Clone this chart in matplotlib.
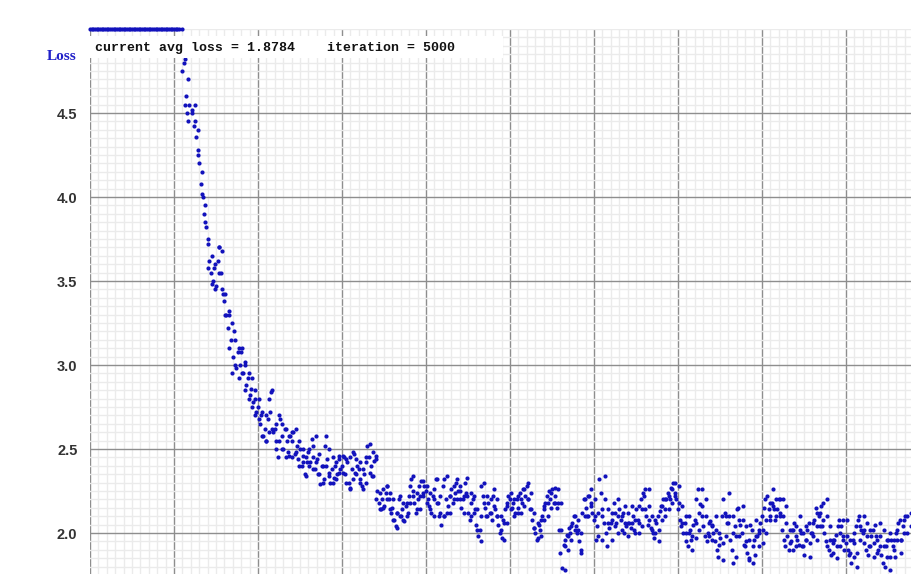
import numpy as np
import matplotlib
matplotlib.use('Agg')
from matplotlib import pyplot as plt
from matplotlib.patches import Rectangle
from matplotlib.ticker import MultipleLocator

# avg loss, one value every 10 iterations
avg_loss = [
    9.8, 9.5, 9.1, 8.9, 8.6, 8.4, 8.1, 7.9, 7.7, 7.5,
    7.3, 7.2, 7.0, 6.9, 6.8, 6.6, 6.5, 6.4, 6.3, 6.2,
    6.1, 6.0, 5.95, 5.9, 5.8, 5.75, 5.7, 5.65, 5.6, 5.55,
    5.5, 5.48, 5.45, 5.42, 5.4, 5.38, 5.35, 5.32, 5.3, 5.28,
    5.26, 5.24, 5.22, 5.2, 5.18, 5.16, 5.14, 5.12, 5.1, 5.08,
    5.06, 5.04, 5.03, 5.02, 4.85, 5.01, 4.8, 4.6, 4.5, 4.55,
    4.85, 4.52, 4.42, 4.36, 4.28, 4.2, 4.08, 4.0, 3.9, 3.82,
    3.72, 3.62, 3.55, 3.5, 3.58, 3.47, 3.62, 3.7, 3.55, 3.42,
    3.38, 3.3, 3.22, 3.32, 3.15, 3.05, 3.2, 2.98, 3.08, 3.0,
    3.08, 2.95, 3.0, 2.88, 2.92, 2.82, 2.86, 2.78, 2.8, 2.72,
    2.75, 2.65, 2.7, 2.58, 2.62, 2.55, 2.68, 2.72, 2.84, 2.6,
    2.62, 2.55, 2.45, 2.68, 2.58, 2.5, 2.62, 2.55, 2.48, 2.58,
    2.55, 2.6, 2.47, 2.52, 2.44, 2.5, 2.4, 2.46, 2.35, 2.42,
    2.48, 2.42, 2.56, 2.45, 2.38, 2.44, 2.35, 2.29, 2.4, 2.32,
    2.52, 2.44, 2.36, 2.3, 2.38, 2.33, 2.4, 2.35, 2.44, 2.38,
    2.4, 2.45, 2.35, 2.42, 2.3, 2.27, 2.38, 2.47, 2.36, 2.4,
    2.38, 2.32, 2.28, 2.35, 2.42, 2.52, 2.45, 2.4, 2.34, 2.43,
    2.44, 2.25, 2.18, 2.14, 2.2, 2.16, 2.24, 2.28, 2.2, 2.12,
    2.15, 2.08, 2.04, 2.12, 2.2, 2.1, 2.14, 2.07, 2.16, 2.12,
    2.22, 2.32, 2.25, 2.18, 2.12, 2.2, 2.28, 2.31, 2.24, 2.28,
    2.25, 2.2, 2.16, 2.12, 2.22, 2.26, 2.32, 2.18, 2.1, 2.05,
    2.28, 2.1, 2.2, 2.16, 2.22, 2.26, 2.18, 2.24, 2.3, 2.25,
    2.25, 2.15, 2.2, 2.3, 2.24, 2.12, 2.08, 2.18, 2.2, 2.14,
    2.05, 1.98, 2.02, 2.28, 2.22, 2.15, 2.1, 2.18, 2.12, 2.08,
    2.22, 2.14, 2.1, 2.05, 2.0, 1.97, 2.08, 2.14, 2.18, 2.22,
    2.2, 2.15, 2.18, 2.12, 2.2, 2.15, 2.24, 2.18, 2.26, 2.22,
    2.28, 2.2, 2.14, 2.08, 2.03, 2.0, 1.96, 2.05, 2.02, 2.1,
    2.14, 2.18, 2.22, 2.25, 2.2, 2.26, 2.18, 2.22, 2.15, 2.02,
    1.88, 1.79, 1.93, 1.96, 1.99, 2.03, 2.0, 2.06, 2.1, 2.04,
    2.0, 1.95, 1.88, 2.12, 2.2, 2.15, 2.1, 2.22, 2.18, 2.12,
    2.08, 1.96, 2.04, 2.32, 2.24, 2.14, 2.06, 2.0, 1.92, 2.03,
    2.06, 2.12, 2.18, 2.06, 2.0, 2.14, 2.08, 2.12, 2.0, 2.04,
    2.12, 2.06, 2.03, 2.1, 2.02, 2.14, 2.08, 2.16, 2.2, 2.24,
    2.22, 2.1, 2.05, 2.08, 2.03, 2.0, 1.97, 2.06, 2.1, 2.13,
    2.16, 2.2, 2.14, 2.2, 2.24, 2.2, 2.27, 2.3, 2.24, 2.2,
    2.14, 2.08, 2.04, 2.0, 2.06, 1.95, 1.92, 2.02, 1.96, 2.05,
    2.08, 2.2, 2.26, 2.17, 2.1, 2.04, 1.98, 1.95, 2.0, 2.07,
    2.05, 2.0, 1.95, 1.9, 1.86, 1.97, 2.1, 2.2, 2.12, 2.06,
    2.06, 1.96, 1.9, 1.82, 2.04, 2.14, 2.15, 2.05, 2.0, 1.93,
    1.92, 1.88, 1.84, 2.05, 2.02, 1.96, 1.87, 1.98, 2.02, 2.06,
    2.1, 2.15, 2.2, 2.22, 2.14, 2.1, 2.18, 2.14, 2.08, 2.14,
    2.2, 2.12, 2.02, 1.96, 1.92, 1.98, 1.9, 1.95, 2.02, 2.06,
    2.04, 1.96, 1.93, 2.0, 1.92, 1.87, 1.96, 2.02, 2.06, 2.0,
    2.0, 2.08, 2.15, 2.12, 2.1, 2.16, 2.04, 2.0, 1.95, 1.92,
    1.9, 1.87, 1.94, 1.96, 1.99, 2.04, 2.08, 2.04, 1.96, 1.9,
    1.94, 1.9, 1.87, 1.82, 1.96, 2.0, 2.04, 2.08, 2.1, 2.02,
    2.0, 1.94, 1.9, 1.87, 1.92, 1.98, 2.02, 2.05, 1.98, 1.9,
    1.92, 1.87, 1.82, 1.8, 1.92, 1.96, 2.0, 1.96, 1.92, 1.86,
    2.0, 2.06, 2.08, 1.96, 2.04, 2.1,
]
iter_step = 10

# extra dots from the upper and lower edge of the cloud, every 20 iterations from 545
band_start = 545
band_step = 20
loss_upper = [
    4.88, 4.82, 4.7,
    4.85, 4.55, 4.4, 4.15, 3.95,
    3.75, 3.65, 3.6, 3.7, 3.68,
    3.42, 3.3, 3.25, 3.15, 3.1,
    3.1, 3.02, 2.95, 2.92, 2.85,
    2.8, 2.72, 2.7, 2.8, 2.85,
    2.65, 2.7, 2.65, 2.62, 2.58,
    2.6, 2.62, 2.55, 2.5, 2.45,
    2.5, 2.52, 2.58, 2.47, 2.4,
    2.58, 2.5, 2.45, 2.42, 2.46,
    2.46, 2.44, 2.45, 2.48, 2.44,
    2.42, 2.38, 2.45, 2.53, 2.48,
    2.46, 2.24, 2.26, 2.28, 2.24,
    2.2, 2.12, 2.22, 2.18, 2.18,
    2.28, 2.34, 2.24, 2.22, 2.31,
    2.28, 2.24, 2.2, 2.32, 2.22,
    2.32, 2.34, 2.22, 2.28, 2.32,
    2.28, 2.22, 2.33, 2.24, 2.22,
    2.14, 2.1, 2.3, 2.22, 2.2,
    2.26, 2.2, 2.1, 2.06, 2.16,
    2.24, 2.2, 2.22, 2.2, 2.26,
    2.3, 2.24, 2.12, 2.06, 2.08,
    2.16, 2.18, 2.24, 2.27, 2.26,
    2.18, 1.92, 1.98, 2.04, 2.1,
    2.08, 2.0, 2.2, 2.22, 2.26,
    2.2, 2.12, 2.1, 2.34, 2.14,
    2.08, 2.12, 2.2, 2.1, 2.16,
    2.06, 2.16, 2.08, 2.06, 2.14,
    2.26, 2.26, 2.1, 2.08, 2.02,
    2.16, 2.2, 2.22, 2.26, 2.3,
    2.28, 2.16, 2.1, 2.1, 1.98,
    2.06, 2.12, 2.26, 2.2, 2.06,
    2.04, 2.1, 2.0, 1.94, 2.1,
    2.24, 2.1, 1.98, 2.08, 2.16,
    2.04, 1.96, 1.92, 2.08, 2.0,
    2.02, 2.08, 2.18, 2.26, 2.2,
    2.2, 2.2, 2.16, 2.02, 2.02,
    1.98, 2.1, 2.0, 2.04, 1.94,
    2.06, 2.04, 2.12, 2.18, 2.2,
    2.04, 1.96, 1.92, 2.0, 2.08,
    2.08, 1.96, 1.94, 1.88, 2.04,
    2.1, 2.06, 2.02, 1.94, 1.96,
    2.06, 2.02, 1.96, 1.86, 1.96,
    2.02, 1.96, 2.08, 2.1, 2.12,
]
loss_lower = [
    4.75, 4.55, 4.45,
    4.5, 4.45, 4.25, 4.02, 3.85,
    3.58, 3.48, 3.45, 3.55, 3.45,
    3.3, 3.1, 2.95, 3.0, 2.92,
    2.95, 2.85, 2.8, 2.75, 2.7,
    2.68, 2.58, 2.55, 2.6, 2.62,
    2.5, 2.55, 2.5, 2.45, 2.46,
    2.45, 2.48, 2.4, 2.42, 2.34,
    2.4, 2.38, 2.42, 2.35, 2.3,
    2.4, 2.34, 2.3, 2.32, 2.36,
    2.36, 2.3, 2.26, 2.32, 2.35,
    2.3, 2.26, 2.3, 2.36, 2.34,
    2.2, 2.14, 2.15, 2.2, 2.14,
    2.08, 2.03, 2.1, 2.08, 2.1,
    2.18, 2.22, 2.14, 2.14, 2.22,
    2.18, 2.14, 2.1, 2.18, 2.12,
    2.1, 2.12, 2.12, 2.2, 2.2,
    2.2, 2.12, 2.22, 2.1, 2.12,
    2.02, 1.95, 2.18, 2.1, 2.12,
    2.16, 2.1, 2.02, 1.96, 2.06,
    2.14, 2.1, 2.12, 2.12, 2.16,
    2.2, 2.14, 2.03, 1.97, 1.98,
    2.08, 2.1, 2.15, 2.18, 2.18,
    2.02, 1.78, 1.9, 1.96, 2.02,
    2.02, 1.9, 2.1, 2.1, 2.16,
    2.1, 1.98, 1.96, 2.2, 2.06,
    1.96, 2.04, 2.1, 2.02, 2.06,
    1.98, 2.06, 2.0, 2.0, 2.04,
    2.14, 2.16, 2.02, 2.0, 1.95,
    2.08, 2.1, 2.14, 2.18, 2.22,
    2.18, 2.06, 2.0, 2.0, 1.9,
    1.97, 2.02, 2.16, 2.1, 1.98,
    1.96, 2.02, 1.93, 1.84, 1.98,
    2.1, 2.0, 1.86, 1.98, 2.08,
    1.95, 1.85, 1.82, 1.98, 1.92,
    1.94, 2.0, 2.08, 2.16, 2.1,
    2.1, 2.1, 2.06, 1.94, 1.9,
    1.92, 2.02, 1.92, 1.96, 1.86,
    1.98, 1.96, 2.04, 2.08, 2.1,
    1.96, 1.88, 1.85, 1.92, 1.98,
    1.98, 1.88, 1.86, 1.8, 1.96,
    2.02, 1.98, 1.92, 1.86, 1.88,
    1.98, 1.92, 1.86, 1.78, 1.9,
    1.96, 1.88, 2.0, 2.0, 2.04,
]

y_ticks = [2.0, 2.5, 3.0, 3.5, 4.0, 4.5]
max_loss = 5.0
status = 'current avg loss = 1.8784    iteration = 5000'

iters = np.arange(len(avg_loss)) * iter_step
shown = np.minimum(np.array(avg_loss), max_loss)  # darknet clips big losses at the top
band_iters = band_start + np.arange(len(loss_upper)) * band_step

W, H = 912, 574
fig = plt.figure(figsize=(W / 100, H / 100), dpi=100)
ax = fig.add_axes([90 / W, 0, 1 - 90 / W, (H - 29) / H])

dot = dict(linestyle='none', marker='o', markersize=3.0, color='#1212bc',
           markeredgewidth=0, clip_on=False, zorder=3)
ax.plot(iters, shown, **dot)
ax.plot(band_iters, loss_upper, **dot)
ax.plot(band_iters, loss_lower, **dot)

ax.set_xlim(0, 4893)
ax.set_ylim(1.756, max_loss)
ax.xaxis.set_major_locator(MultipleLocator(500))
ax.xaxis.set_minor_locator(MultipleLocator(50))
ax.yaxis.set_major_locator(MultipleLocator(0.5))
ax.yaxis.set_minor_locator(MultipleLocator(0.05))
ax.grid(which='minor', color='#ebebeb', linewidth=1.0)
ax.grid(which='major', color='#8e8e8e', linewidth=1.0)
ax.set_axisbelow(True)
for s in ax.spines.values():
    s.set_visible(False)
ax.tick_params(which='both', length=0)
ax.set_xticklabels([])
ax.set_yticks(y_ticks)
ax.set_yticklabels(['%.1f' % v for v in y_ticks], fontfamily='Liberation Sans',
                   fontweight='bold', fontsize=10.5, color='#333333')
ax.tick_params(axis='y', pad=9)

fig.text(62 / W, 1 - 57 / H, 'Loss', ha='center', va='center', color='#2020c8',
         fontfamily='Liberation Serif', fontweight='bold', fontsize=11)

fig.add_artist(Rectangle((90 / W, 1 - 58 / H), 413 / W, 22 / H, transform=fig.transFigure,
                         facecolor='white', edgecolor='none', zorder=5))
fig.text(95 / W, 1 - 47.5 / H, status, ha='left', va='center', color='#111111',
         fontfamily='Liberation Mono', fontweight='bold', fontsize=9.5, zorder=6)

fig.savefig('out.png', dpi=100)
